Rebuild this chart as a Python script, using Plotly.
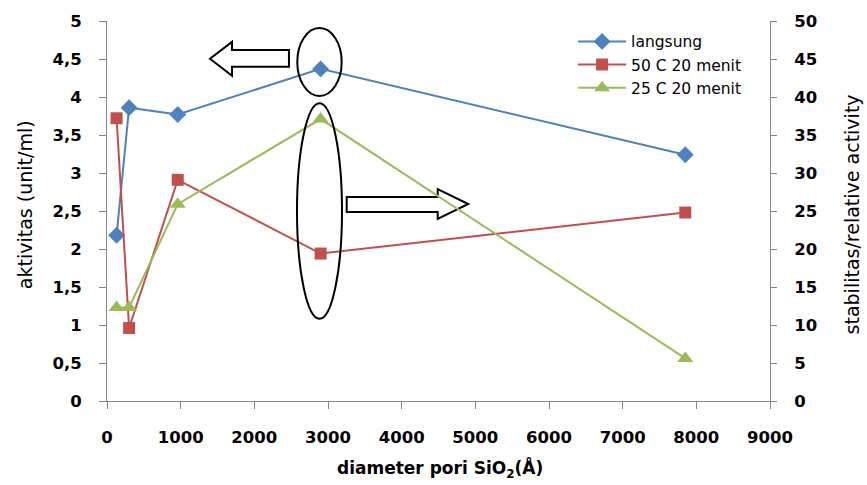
import plotly.graph_objects as go

# data
x_langsung = [130, 300, 960, 2900, 7850]
y_langsung = [2.18, 3.86, 3.77, 4.37, 3.24]
x_50c = [130, 300, 960, 2900, 7850]
y_50c = [37.2, 9.6, 29.1, 19.4, 24.8]
x_25c = [130, 300, 960, 2900, 7850]
y_25c = [12.3, 12.3, 25.9, 37.1, 5.6]

x_ticks = [0, 1000, 2000, 3000, 4000, 5000, 6000, 7000, 8000, 9000]
x_ticktext = [str(v) for v in x_ticks]

BLUE = "#4F81BD"
RED = "#C0504D"
GREEN = "#9BBB59"
AXIS = "#868686"
FONT = "DejaVu Sans"

fig = go.Figure()
fig.add_trace(go.Scatter(x=x_langsung, y=y_langsung, name="langsung", mode="lines+markers",
                         line=dict(color=BLUE, width=2),
                         marker=dict(symbol="diamond", size=13, color=BLUE)))
fig.add_trace(go.Scatter(x=x_50c, y=y_50c, name="50 C 20 menit", mode="lines+markers", yaxis="y2",
                         line=dict(color=RED, width=2),
                         marker=dict(symbol="square", size=12, color=RED)))
fig.add_trace(go.Scatter(x=x_25c, y=y_25c, name="25 C 20 menit", mode="lines+markers", yaxis="y2",
                         line=dict(color=GREEN, width=2),
                         marker=dict(symbol="triangle-up", size=14, color=GREEN)))

tickfont = dict(family=FONT, size=16.5, color="black", weight="bold")

fig.update_layout(
    width=867, height=485,
    margin=dict(l=107, r=97, t=19, b=84),
    paper_bgcolor="white", plot_bgcolor="white",
    separators=", ",
    font=dict(family=FONT, color="black"),
    showlegend=True,
    legend=dict(x=0.703, y=0.99, xanchor="left", yanchor="top",
                font=dict(family=FONT, size=15.5, color="black"),
                bgcolor="rgba(0,0,0,0)", itemwidth=48, tracegroupgap=0),
    xaxis=dict(range=[0, 9000], tickvals=x_ticks, ticktext=x_ticktext,
               showgrid=False, zeroline=False, showline=True, linecolor=AXIS, linewidth=1,
               ticks="outside", ticklen=7, tickcolor=AXIS, tickfont=tickfont,
               ticklabelstandoff=14),
    yaxis=dict(range=[0, 5], dtick=0.5, tick0=0,
               showgrid=False, zeroline=False, showline=True, linecolor=AXIS, linewidth=1,
               ticks="outside", ticklen=7, tickcolor=AXIS, tickfont=tickfont,
               ticklabelstandoff=14),
    yaxis2=dict(range=[0, 50], dtick=5, tick0=0, overlaying="y", side="right",
                showgrid=False, zeroline=False, showline=True, linecolor=AXIS, linewidth=1,
                ticks="outside", ticklen=6, tickcolor=AXIS, tickfont=tickfont,
                ticklabelstandoff=14),
)

# axis titles
fig.add_annotation(text="diameter pori SiO<sub>2</sub>(Å)", xref="paper", yref="paper",
                   x=0.502, y=-0.1775, xanchor="center", yanchor="middle", showarrow=False,
                   font=dict(family=FONT, size=17, color="black", weight="bold"))
fig.add_annotation(text="aktivitas (unit/ml)", xref="paper", yref="paper",
                   x=-0.1237, y=0.518, xanchor="center", yanchor="middle", showarrow=False,
                   textangle=-90, font=dict(family=FONT, size=19, color="black"))
fig.add_annotation(text="stabilitas/relative activity", xref="paper", yref="paper",
                   x=1.1237, y=0.491, xanchor="center", yanchor="middle", showarrow=False,
                   textangle=-90, font=dict(family=FONT, size=19, color="black"))

# decorative arrows and ellipses (data coordinates of the left axis)
left_arrow = "M 1398,4.503 L 1697,4.725 L 1697,4.62 L 2470,4.62 L 2470,4.398 L 1697,4.398 L 1697,4.28 Z"
right_arrow = "M 3254,2.683 L 4489,2.683 L 4489,2.788 L 4904,2.592 L 4489,2.395 L 4489,2.487 L 3254,2.487 Z"
for p in (left_arrow, right_arrow):
    fig.add_shape(type="path", path=p, xref="x", yref="y", layer="below",
                  line=dict(color="black", width=2), fillcolor="white")
fig.add_shape(type="circle", xref="x", yref="y", x0=2583, x1=3186, y0=4.014, y1=4.908,
              line=dict(color="black", width=2))
fig.add_shape(type="circle", xref="x", yref="y", x0=2579, x1=3190, y0=1.082, y1=3.918,
              line=dict(color="black", width=2))

fig.write_html("out.html")
